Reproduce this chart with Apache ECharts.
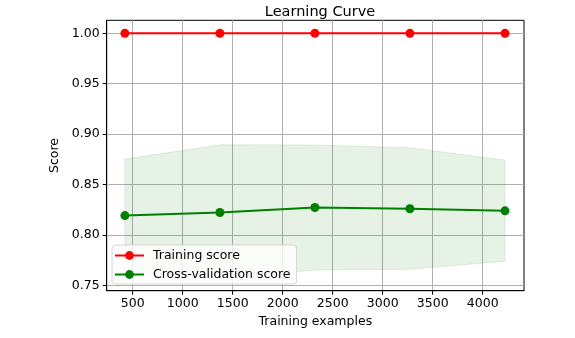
<!DOCTYPE html>
<html>
<head>
<meta charset="utf-8">
<title>Learning Curve</title>
<script src="https://cdn.jsdelivr.net/npm/echarts@6/dist/echarts.min.js"></script>
<style>
    html, body { margin: 0; padding: 0; background: #fff; }
    #chart_1 { width: 575px; height: 338px; }
</style>
</head>
<body>
<div id="chart_1"></div>
<script>
// 训练样本数
var trainSizes = [422, 1372, 2322, 3272, 4223];
// 得分
var trainScore = [1.0, 1.0, 1.0, 1.0, 1.0];
var cvScore = [0.8193, 0.8223, 0.8273, 0.8260, 0.8240];
// 交叉验证 均值 ± 标准差
var cvUpper = [0.8753, 0.8895, 0.8893, 0.8866, 0.8743];
var cvLower = [0.7633, 0.7570, 0.7653, 0.7660, 0.7740];
// 刻度
var xTicks = [500, 1000, 1500, 2000, 2500, 3000, 3500, 4000];
var yTicks = [0.75, 0.80, 0.85, 0.90, 0.95, 1.00];

function pairs(xs, ys) {
    var res = [];
    for (var i = 0; i < xs.length; i++) {
        res.push([xs[i], ys[i]]);
    }
    return res;
}

var bandData = [];
for (var i = 0; i < trainSizes.length; i++) {
    bandData.push([trainSizes[i], cvLower[i], cvUpper[i]]);
}

// fill_between：用多边形画出上下边界之间的区域
function renderBand(params, api) {
    if (params.dataIndex !== 0) {
        return;
    }
    var pts = [];
    for (var i = 0; i < bandData.length; i++) {
        pts.push(api.coord([bandData[i][0], bandData[i][2]]));
    }
    for (var j = bandData.length - 1; j >= 0; j--) {
        pts.push(api.coord([bandData[j][0], bandData[j][1]]));
    }
    return {
        type: 'polygon',
        shape: { points: pts },
        style: { fill: 'rgba(0,128,0,0.1)', stroke: 'rgba(0,128,0,0.1)', lineWidth: 1 }
    };
}

var font = 'DejaVu Sans';
var myChart = echarts.init(document.getElementById('chart_1'));

var option = {
    animation: false,
    backgroundColor: '#fff',
    textStyle: { fontFamily: font },
    title: {
        text: 'Learning Curve',
        left: 315,
        textAlign: 'center',
        top: 0,
        textStyle: { fontFamily: font, fontSize: 14.5, fontWeight: 'normal', color: '#000' }
    },
    legend: {
        orient: 'vertical',
        left: 112,
        top: 245,
        itemWidth: 29,
        itemHeight: 11,
        itemGap: 6,
        padding: [4, 6, 3, 2],
        backgroundColor: 'rgba(255,255,255,0.8)',
        borderColor: '#d6d6d6',
        borderWidth: 1,
        borderRadius: 3,
        textStyle: { fontFamily: font, fontSize: 12.5, color: '#000', padding: [0, 0, 0, 4] },
        data: ['Training score', 'Cross-validation score']
    },
    grid: {
        left: 106.7,
        right: 51,
        top: 20.3,
        bottom: 47.3,
        show: true,
        borderColor: '#000',
        borderWidth: 1,
        containLabel: false
    },
    xAxis: {
        type: 'value',
        min: 240,
        max: 4413,
        name: 'Training examples',
        nameLocation: 'middle',
        nameGap: 24,
        nameTextStyle: { fontFamily: font, fontSize: 12.5, color: '#000' },
        axisLine: { show: true, onZero: false, lineStyle: { color: '#000', width: 1 } },
        axisTick: { show: true, length: 4, lineStyle: { color: '#000' }, customValues: xTicks },
        axisLabel: {
            margin: 7, fontFamily: font, fontSize: 12.5, color: '#000', customValues: xTicks,
            formatter: function (v) { return String(v); }
        },
        splitLine: { show: true, lineStyle: { color: '#b0b0b0', width: 1 } }
    },
    yAxis: {
        type: 'value',
        min: 0.7448,
        max: 1.0129,
        name: 'Score',
        nameLocation: 'middle',
        nameGap: 36,
        nameTextStyle: { fontFamily: font, fontSize: 12.5, color: '#000' },
        axisLine: { show: true, onZero: false, lineStyle: { color: '#000', width: 1 } },
        axisTick: { show: true, length: 4, lineStyle: { color: '#000' }, customValues: yTicks },
        axisLabel: {
            margin: 7, fontFamily: font, fontSize: 12.5, color: '#000', customValues: yTicks,
            formatter: function (v) { return v.toFixed(2); }
        },
        splitLine: { show: true, lineStyle: { color: '#b0b0b0', width: 1 } }
    },
    series: [
        {
            name: 'band',
            type: 'custom',
            renderItem: renderBand,
            data: bandData,
            encode: { x: 0, y: [1, 2] },
            silent: true,
            z: 1
        },
        {
            name: 'Training score',
            type: 'line',
            data: pairs(trainSizes, trainScore),
            symbol: 'circle',
            symbolSize: 9,
            lineStyle: { color: '#ff0000', width: 1.9 },
            itemStyle: { color: '#ff0000' },
            z: 3
        },
        {
            name: 'Cross-validation score',
            type: 'line',
            data: pairs(trainSizes, cvScore),
            symbol: 'circle',
            symbolSize: 9,
            lineStyle: { color: '#008000', width: 1.9 },
            itemStyle: { color: '#008000' },
            z: 3
        }
    ]
};

myChart.setOption(option);
window.addEventListener('resize', function () {
    myChart.resize();
});
</script>
</body>
</html>
